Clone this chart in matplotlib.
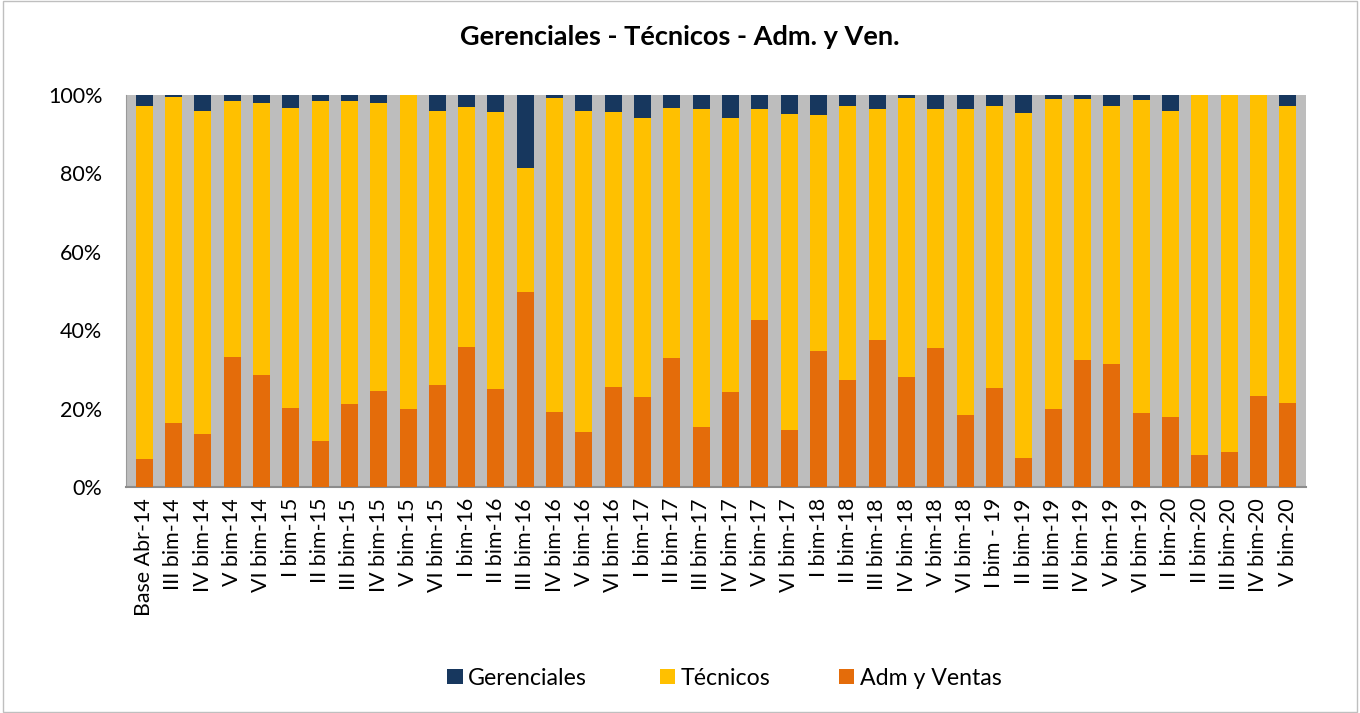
import matplotlib.pyplot as plt
import numpy as np

plt.rcParams['font.family'] = ['Lato', 'DejaVu Sans']

periods = ["Base Abr-14", "III bim-14", "IV bim-14", "V bim-14", "VI bim-14",
           "I bim-15", "II bim-15", "III bim-15", "IV bim-15", "V bim-15", "VI bim-15",
           "I bim-16", "II bim-16", "III bim-16", "IV bim-16", "V bim-16", "VI bim-16",
           "I bim-17", "II bim-17", "III bim-17", "IV bim-17", "V bim-17", "VI bim-17",
           "I bim-18", "II bim-18", "III bim-18", "IV bim-18", "V bim-18", "VI bim-18",
           "I bim - 19", "II bim-19", "III bim-19", "IV bim-19", "V bim-19", "VI bim-19",
           "I bim-20", "II bim-20", "III bim-20", "IV bim-20", "V bim-20"]

# share (%) of Adm y Ventas
adm = [7.2, 16.4, 13.4, 33.2, 28.6, 20.2, 11.7, 21.2, 24.5, 20.0, 26.0,
       35.7, 25.0, 49.7, 19.1, 14.0, 25.5, 23.0, 32.9, 15.3, 24.2, 42.6, 14.5,
       34.7, 27.3, 37.5, 28.0, 35.5, 18.4, 25.3, 7.4, 19.9, 32.4, 31.4, 18.9,
       17.9, 8.2, 8.9, 23.2, 21.4]
# share (%) of Técnicos
tec = [90.1, 83.0, 82.4, 65.2, 69.3, 76.6, 86.7, 77.2, 73.4, 80.0, 69.9,
       61.3, 70.7, 31.7, 80.1, 81.9, 70.2, 71.1, 63.8, 81.1, 69.9, 53.8, 80.7,
       60.2, 69.9, 58.9, 71.2, 60.9, 78.0, 71.9, 88.0, 79.1, 66.6, 65.8, 79.8,
       78.0, 91.8, 91.1, 76.8, 75.8]
# share (%) of Gerenciales
ger = [2.7, 0.6, 4.2, 1.6, 2.1, 3.2, 1.6, 1.6, 2.1, 0.0, 4.1,
       3.0, 4.3, 18.6, 0.8, 4.1, 4.3, 5.9, 3.3, 3.6, 5.9, 3.6, 4.8,
       5.1, 2.8, 3.6, 0.8, 3.6, 3.6, 2.8, 4.6, 1.0, 1.0, 2.8, 1.3,
       4.1, 0.0, 0.0, 0.0, 2.8]

c_ger = "#17375E"
c_tec = "#FFC000"
c_adm = "#E46C0A"

fig = plt.figure(figsize=(13.6, 7.13), dpi=100)
ax = fig.add_axes([0.0926, 0.317, 0.8676, 0.5498])
ax.set_facecolor("#BDBDBD")

x = np.arange(len(periods))
w = 0.58
adm_a = np.array(adm)
tec_a = np.array(tec)
b_adm = ax.bar(x, adm_a, w, color=c_adm, label="Adm y Ventas", zorder=3)
b_tec = ax.bar(x, tec_a, w, bottom=adm_a, color=c_tec, label="Técnicos", zorder=3)
b_ger = ax.bar(x, ger, w, bottom=adm_a + tec_a, color=c_ger, label="Gerenciales", zorder=3)

ax.set_xlim(-0.62, len(periods) - 0.38)
ax.set_ylim(0, 100)
ax.set_yticks(range(0, 101, 20))
ax.set_yticklabels([f"{v}%" for v in range(0, 101, 20)], fontsize=15.5)
ax.set_xticks(x)
ax.set_xticklabels(periods, rotation=90, fontsize=15.4)
ax.tick_params(axis="x", length=0, pad=8)
ax.tick_params(axis="y", length=0, pad=17)
for s in ["top", "right"]:
    ax.spines[s].set_visible(False)
ax.spines["left"].set_color("#999999")
ax.spines["bottom"].set_color("#8C8C8C")
ax.spines["bottom"].set_linewidth(1.5)

fig.suptitle("Gerenciales - Técnicos - Adm. y Ven.", y=0.965, fontsize=19.5, fontweight="bold")

# one legend per entry, placed like the original
for handle, label, xpos in [(b_ger, "Gerenciales", 0.329), (b_tec, "Técnicos", 0.485),
                            (b_adm, "Adm y Ventas", 0.617)]:
    fig.legend([handle], [label], loc="center left", bbox_to_anchor=(xpos, 0.049),
               frameon=False, fontsize=16.7, handlelength=0.65, handleheight=0.65,
               handletextpad=0.25, borderaxespad=0, borderpad=0)

fig.patches.append(plt.Rectangle((0.002, 0.002), 0.996, 0.996, transform=fig.transFigure,
                                 fill=False, edgecolor="#BFBFBF", linewidth=1))

fig.savefig("out.png", dpi=100)
